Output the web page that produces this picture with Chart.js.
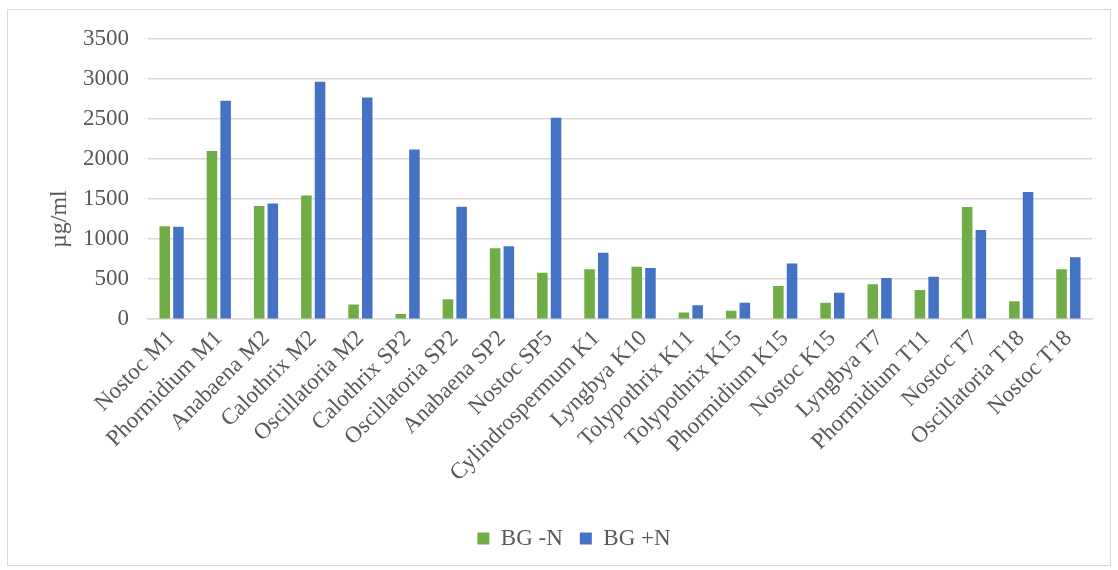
<!DOCTYPE html>
<html>
<head>
<meta charset="utf-8">
<script src="https://cdn.jsdelivr.net/npm/chart.js@4/dist/chart.umd.min.js"></script>
<style>
    body { margin: 0; background: #ffffff; }
    #box {
        position: absolute;
        left: 7px;
        top: 9px;
        width: 1102px;
        height: 555px;
        border: 1px solid #d9d9d9;
    }
</style>
</head>
<body>
<div id="box"><canvas id="grafico"></canvas></div>
<script>
// strains on the x axis
const strains = [
    'Nostoc M1', 'Phormidium M1', 'Anabaena M2', 'Calothrix M2', 'Oscillatoria M2',
    'Calothrix SP2', 'Oscillatoria SP2', 'Anabaena SP2', 'Nostoc SP5', 'Cylindrospermum K1',
    'Lyngbya K10', 'Tolypothrix K11', 'Tolypothrix K15', 'Phormidium K15', 'Nostoc K15',
    'Lyngbya T7', 'Phormidium T11', 'Nostoc T7', 'Oscillatoria T18', 'Nostoc T18'
];

// µg/ml
const bgMinusN = [1160, 2100, 1415, 1545, 185, 65, 250, 885, 580, 625, 655, 85, 105, 415, 205, 435, 365, 1400, 225, 625];
const bgPlusN = [1155, 2730, 1445, 2965, 2770, 2120, 1405, 910, 2515, 830, 640, 175, 205, 695, 330, 515, 530, 1115, 1590, 775];

const yTicks = [0, 500, 1000, 1500, 2000, 2500, 3000, 3500];
const yTitle = 'µg/ml';

const textColor = '#595959';
const fontFamily = '"Liberation Serif", "Times New Roman", serif';

// moves the legend a bit to the right, like in the original
const legendShift = {
    id: 'legendShift',
    afterLayout(chart) {
        chart.legend.left += 24;
        chart.legend.right += 24;
    }
};

// y title sits lower than the middle of the axis in the original
const yTitlePlugin = {
    id: 'yTitlePlugin',
    afterDraw(chart) {
        const ctx = chart.ctx;
        const area = chart.chartArea;
        ctx.save();
        ctx.translate(52, area.bottom - 100);
        ctx.rotate(-Math.PI / 2);
        ctx.fillStyle = textColor;
        ctx.font = '24px ' + fontFamily;
        ctx.textAlign = 'center';
        ctx.textBaseline = 'middle';
        ctx.fillText(yTitle, 0, 0);
        ctx.restore();
    }
};

document.addEventListener('DOMContentLoaded', function() {
    criarGrafico();
});

function criarGrafico() {
    const canvas = document.getElementById('grafico');

    new Chart(canvas, {
        type: 'bar',
        data: {
            labels: strains,
            datasets: [{
                label: 'BG -N',
                data: bgMinusN,
                backgroundColor: '#70ad47',
                borderWidth: 0,
                categoryPercentage: 0.58,
                barPercentage: 0.77
            }, {
                label: 'BG +N',
                data: bgPlusN,
                backgroundColor: '#4472c4',
                borderWidth: 0,
                categoryPercentage: 0.58,
                barPercentage: 0.77
            }]
        },
        plugins: [legendShift, yTitlePlugin],
        options: {
            responsive: true,
            maintainAspectRatio: false,
            animation: false,
            layout: {
                padding: { left: 0, right: 18, top: 29, bottom: 5 }
            },
            plugins: {
                legend: {
                    position: 'bottom',
                    labels: {
                        color: textColor,
                        font: { family: fontFamily, size: 23 },
                        boxWidth: 12,
                        boxHeight: 12,
                        padding: 17
                    }
                },
                tooltip: { enabled: false }
            },
            scales: {
                y: {
                    min: 0,
                    max: 3500,
                    afterBuildTicks: function(axis) {
                        axis.ticks = yTicks.map(v => ({ value: v }));
                    },
                    afterFit: function(axis) {
                        axis.width = 140;
                        // the tick padding should not push the plot down
                        axis.paddingTop = 0;
                        axis.paddingBottom = 0;
                    },
                    border: { display: false },
                    grid: {
                        color: '#d9d9d9',
                        lineWidth: 1.5,
                        drawTicks: false
                    },
                    ticks: {
                        color: textColor,
                        font: { family: fontFamily, size: 23 },
                        padding: 19,
                        callback: function(value) {
                            return String(value);
                        }
                    }
                },
                x: {
                    afterFit: function(axis) {
                        axis.height += 17;
                    },
                    grid: { display: false, drawTicks: false },
                    border: { color: '#d9d9d9', width: 1.5 },
                    ticks: {
                        color: textColor,
                        font: { family: fontFamily, size: 23 },
                        maxRotation: 45,
                        minRotation: 45,
                        autoSkip: false,
                        padding: 6
                    }
                }
            }
        }
    });
}
</script>
</body>
</html>
